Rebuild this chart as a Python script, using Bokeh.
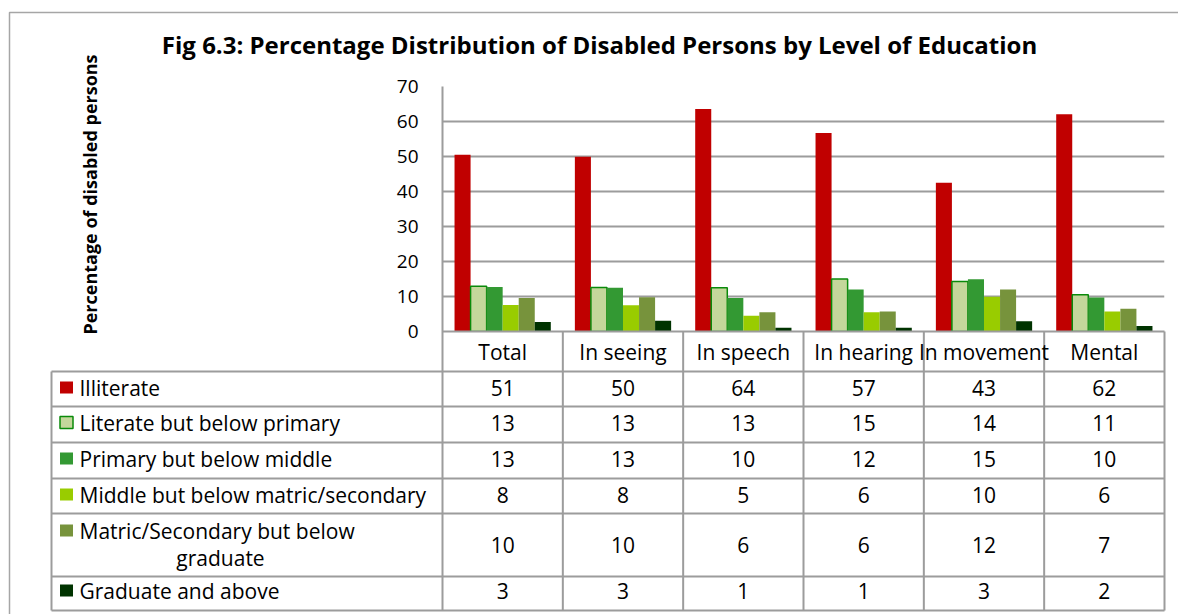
import numpy as np
from bokeh.plotting import figure
from bokeh.models import Range1d, FixedTicker, ColumnDataSource
from bokeh.core.properties import value
from bokeh.embed import file_html
from bokeh.resources import INLINE

# ---------------- data ----------------
title_text = "Fig 6.3: Percentage Distribution of Disabled Persons by Level of Education"
y_label = "Percentage of disabled persons"
categories = ["Total", "In seeing", "In speech", "In hearing", "In movement", "Mental"]
series_names = ["Illiterate", "Literate but below primary", "Primary but below middle",
                "Middle but below matric/secondary", "Matric/Secondary but below graduate",
                "Graduate and above"]
illiterate = [50.5, 49.9, 63.6, 56.7, 42.5, 62.1]
literate_below_primary = [12.9, 12.6, 12.5, 15.0, 14.3, 10.5]
primary_below_middle = [12.7, 12.5, 9.6, 12.0, 14.9, 9.7]
middle_below_matric = [7.6, 7.5, 4.5, 5.5, 9.9, 5.7]
matric_below_graduate = [9.6, 9.8, 5.5, 5.7, 12.0, 6.5]
graduate_and_above = [2.7, 3.1, 1.05, 1.05, 2.9, 1.6]
# values printed in the data table
table_illiterate = [51, 50, 64, 57, 43, 62]
table_literate = [13, 13, 13, 15, 14, 11]
table_primary = [13, 13, 10, 12, 15, 10]
table_middle = [8, 8, 5, 6, 10, 6]
table_matric = [10, 10, 6, 6, 12, 7]
table_graduate = [3, 3, 1, 1, 3, 2]
y_ticks = [0, 10, 20, 30, 40, 50, 60, 70]

series_values = [illiterate, literate_below_primary, primary_below_middle,
                 middle_below_matric, matric_below_graduate, graduate_and_above]
table_values = [table_illiterate, table_literate, table_primary,
                table_middle, table_matric, table_graduate]
colors = ["#C00000", "#C4D79B", "#339933", "#99CC00", "#77933C", "#003300"]
outlines = [None, "#0A8A0A", None, None, None, None]

# ---------------- layout (page pixels) ----------------
W, H = 1178, 614
OFF = 0
PL, PR, PT, PB = 442, 1164, 86, 331
LL = 51
row_lines = [331, 371, 406, 442, 478, 513, 576, 610]
row_text_y = [387, 422, 458, 494, 544, 590]
YMAX = y_ticks[-1]
NC = len(categories)
FONT = "Open Sans"
FS = "21px"
GRID = "#9C9C9C"

def dx(px):
    return (px - PL) / (PR - PL) * NC

def dy(py):
    return (PB - py) / (PB - PT) * YMAX

p = figure(width=W, height=H, output_backend="svg", toolbar_location=None,
           x_range=Range1d(0, NC), y_range=Range1d(0, YMAX), x_axis_type=None,
           min_border_left=PL - OFF, min_border_right=W - (PR - OFF),
           min_border_top=PT - OFF, min_border_bottom=H - (PB - OFF),
           background_fill_color="white", border_fill_color="white")
p.outline_line_color = None

ax = p.yaxis[0]
ax.ticker = FixedTicker(ticks=y_ticks)
ax.major_tick_in = 0
ax.major_tick_out = 0
ax.minor_tick_line_color = None
ax.axis_line_color = None
ax.major_label_standoff = 24
ax.major_label_text_font = FONT
ax.major_label_text_font_size = "19px"
ax.major_label_text_color = "#000000"

p.xgrid.visible = False
p.ygrid.ticker = FixedTicker(ticks=y_ticks[1:])
p.ygrid.grid_line_color = GRID
p.ygrid.grid_line_width = 2

# ---------------- bars ----------------
nser = len(series_values)
group_w = 0.8
bw = group_w / nser
for k, vals in enumerate(series_values):
    xs = [i + (1 - group_w) / 2 + (k + 0.5) * bw for i in range(NC)]
    src = ColumnDataSource(dict(x=xs, top=vals))
    p.vbar(x="x", top="top", width=bw, bottom=0, source=src,
           fill_color=colors[k],
           line_color=outlines[k] if outlines[k] else None,
           line_width=1.5)

# ---------------- table lines ----------------
x0s, y0s, x1s, y1s = [], [], [], []
x0s.append(dx(PL)); x1s.append(dx(PR)); y0s.append(dy(PB)); y1s.append(dy(PB))
for yl in row_lines[1:]:
    x0s.append(dx(LL)); x1s.append(dx(PR)); y0s.append(dy(yl)); y1s.append(dy(yl))
x0s.append(dx(LL)); x1s.append(dx(LL)); y0s.append(dy(row_lines[1])); y1s.append(dy(row_lines[-1]))
x0s.append(dx(PL)); x1s.append(dx(PL)); y0s.append(dy(PT)); y1s.append(dy(row_lines[-1]))
for i in range(1, NC + 1):
    x0s.append(i); x1s.append(i); y0s.append(dy(PB)); y1s.append(dy(row_lines[-1]))
p.segment(x0=x0s, y0=y0s, x1=x1s, y1=y1s, line_color=GRID, line_width=2,
          level="annotation")

# outer chart border (left and top)
p.line(x=[dx(9), dx(9), dx(W)], y=[dy(H), dy(12), dy(12)],
       line_color="#A6A6A6", line_width=1.5, level="annotation")

# ---------------- texts ----------------
p.text(x=[dx(599)], y=[dy(44)], text=[title_text], text_font=value(FONT),
       text_font_style="bold", text_font_size="24px", text_align="center",
       text_baseline="middle", text_color="#000000", level="annotation")
p.text(x=[dx(89)], y=[dy(194)], text=[y_label], angle=np.pi / 2,
       text_font=value(FONT), text_font_style="bold", text_font_size="18px",
       text_align="center", text_baseline="middle", text_color="#000000",
       level="annotation")

centers = [i + 0.5 for i in range(NC)]
p.text(x=centers, y=[dy(351)] * NC, text=categories, text_font=value(FONT),
       text_font_size=FS, text_align="center", text_baseline="middle",
       text_color="#000000", level="annotation")

for k in range(nser):
    ty = row_text_y[k]
    p.text(x=centers, y=[dy(ty)] * NC, text=[str(v) for v in table_values[k]],
           text_font=value(FONT), text_font_size=FS, text_align="center",
           text_baseline="middle", text_color="#000000", level="annotation")
    name = series_names[k]
    if k == 4:
        first, second = "Matric/Secondary but below", "graduate"
        my = 530
        p.text(x=[dx(79)], y=[dy(530)], text=[first], text_font=value(FONT),
               text_font_size=FS, text_align="left", text_baseline="middle",
               text_color="#000000", level="annotation")
        p.text(x=[dx(220)], y=[dy(557)], text=[second], text_font=value(FONT),
               text_font_size=FS, text_align="center", text_baseline="middle",
               text_color="#000000", level="annotation")
    else:
        my = ty
        p.text(x=[dx(79)], y=[dy(ty)], text=[name], text_font=value(FONT),
               text_font_size=FS, text_align="left", text_baseline="middle",
               text_color="#000000", level="annotation")
    p.rect(x=[dx(66)], y=[dy(my)], width=13, height=12, width_units="screen",
           height_units="screen", fill_color=colors[k],
           line_color=outlines[k] if outlines[k] else None, line_width=1.5,
           level="annotation")

open("out.html", "w").write(file_html(p, INLINE))
